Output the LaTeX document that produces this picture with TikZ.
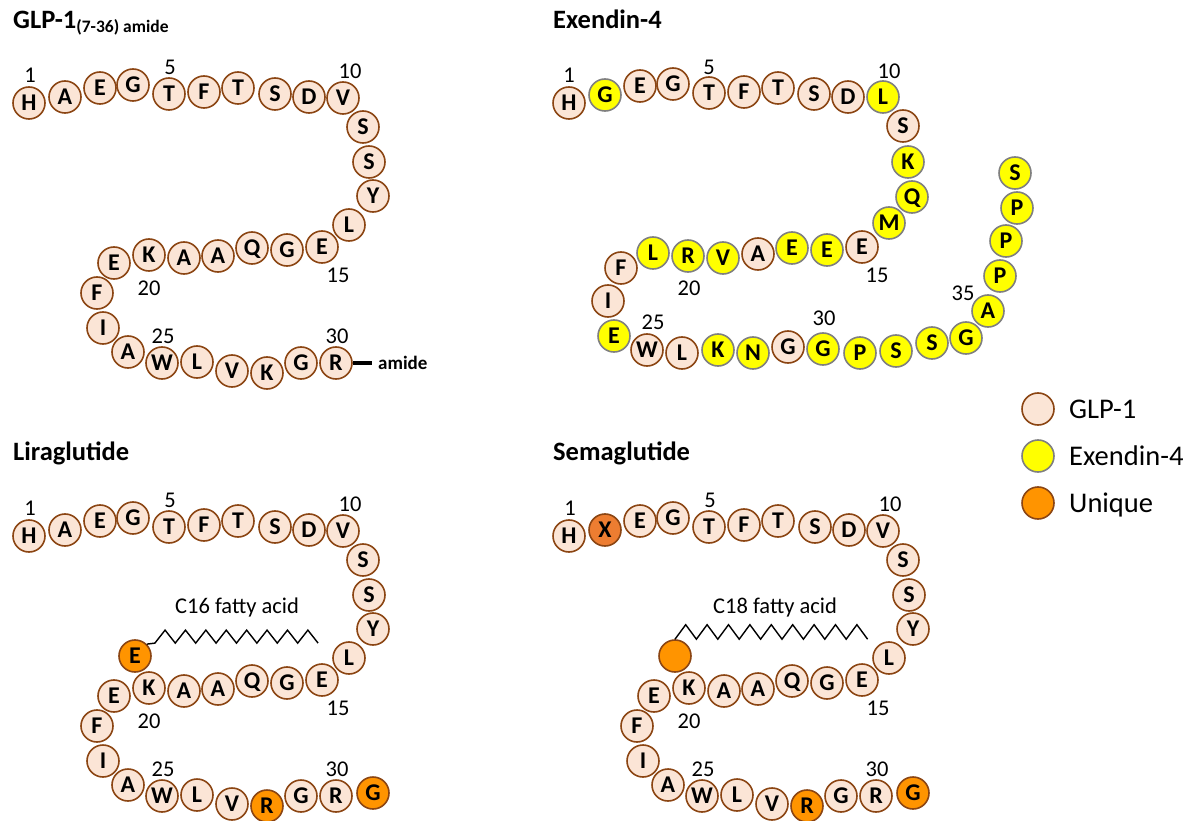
\documentclass[tikz,border=0pt]{standalone}
\usepackage{fontspec}
\setmainfont{Carlito}
\definecolor{peach}{HTML}{FBE5D6}
\definecolor{rim}{HTML}{8B4513}
\definecolor{exyellow}{HTML}{FFFF00}
\definecolor{exrim}{HTML}{7F7F7F}
\definecolor{uniq}{HTML}{FF9400}
\definecolor{uniqdark}{HTML}{ED7D31}
\tikzset{
  res/.style={circle, minimum size=32pt, inner sep=0pt, line width=1.6pt,
    font=\bfseries\fontsize{24}{26}\selectfont, text height=15pt, text depth=0pt},
  glp/.style={res, draw=rim, fill=peach},
  exd/.style={res, draw=exrim, fill=exyellow},
  unq/.style={res, draw=rim, fill=uniq},
  unqx/.style={res, draw=rim, fill=uniqdark},
  num/.style={inner sep=0pt, font=\fontsize{22.5}{25}\selectfont},
  title/.style={inner sep=0pt, font=\bfseries\fontsize{26.5}{30}\selectfont},
  fatty/.style={inner sep=0pt, font=\fontsize{22.5}{26}\selectfont},
  chainline/.style={line width=1.4pt, line join=miter},
  legtxt/.style={inner sep=0pt, font=\fontsize{28.5}{32}\selectfont},
}
% GLP-1 backbone: #1 name prefix, #2/#3 style and letter of residue 2,
% #4/#5 style and letter of residue 28
\newcommand\glpbackbone[5]{%
  \foreach \ri/\x/\y/\rl/\rs in {
    1/29/103/H/glp, 2/65/97/#3/#2, 3/100/88/E/glp, 4/133/85/G/glp, 5/169/94/T/glp,
    6/204/92/F/glp, 7/238/88/T/glp, 8/275/94/S/glp, 9/309/97/D/glp, 10/343/98/V/glp,
    11/363/127/S/glp, 12/369/162/S/glp, 13/373/196/Y/glp, 14/349/225/L/glp,
    15/322/247/E/glp, 16/287/250/G/glp, 17/252/248/Q/glp, 18/218/256/A/glp,
    19/184/258/A/glp, 20/149/255/K/glp, 21/114/263/E/glp, 22/97/293/F/glp,
    23/103/328/I/glp, 24/128/352/A/glp, 25/162/363/W/glp, 26/197/362/L/glp,
    27/232/371/V/glp, 28/267/373/#5/#4, 29/301/363/G/glp, 30/336/363/R/glp}
    {\node[\rs] (#1\ri) at (\x,\y) {\rl};}
  \foreach \nm/\x/\y in {1/30/75, 5/170/67.5, 10/350/71.5, 15/338/275,
      20/149/288, 25/163/336, 30/337/336}
    {\node[num] (#1n\nm) at (\x,\y) {\nm};}
}
\begin{document}
\begin{tikzpicture}[x=1pt, y=-1pt]
\useasboundingbox (0,0) rectangle (1195,821);

% ---------- GLP-1 (7-36) amide ----------
\node[title, anchor=base west] (tglp) at (13,28.3)
  {GLP-1\raisebox{-4.7pt}{\fontsize{17.5}{20}\selectfont (7-36) amide}};
\glpbackbone{g}{glp}{A}{glp}{K}
\node[inner sep=0pt, anchor=west, font=\bfseries\fontsize{19}{22}\selectfont]
  (amide) at (378,363) {amide};
\draw[line width=3.2pt, shorten >=6pt] (g30.east) -- (amide.west);

% ---------- Exendin-4 ----------
\node[title, anchor=base west] (texd) at (553,28.3) {Exendin-4};
\foreach \ri/\x/\y/\rl/\rs in {
    1/569/103/H/glp, 2/605/95/G/exd, 3/640/86/E/glp, 4/673/84/G/glp,
    5/709/93/T/glp, 6/744/92/F/glp, 7/778/88/T/glp, 8/814/94/S/glp,
    9/848/97/D/glp, 10/883/97/L/exd, 11/903/126/S/glp, 12/908/162/K/exd,
    13/912/197/Q/exd, 14/889/223/M/exd, 15/862/247/E/glp, 16/827/250/E/exd,
    17/792/248/E/exd, 18/758/254/A/glp, 19/723/258/V/exd, 20/688/256/R/exd,
    21/653/253/L/exd, 22/621/268/F/glp, 23/608/301/I/glp, 24/614/336/E/exd,
    25/647/350/W/glp, 26/682/353/L/glp, 27/718/350/K/exd, 28/753/353/N/exd,
    29/788/347/G/glp, 30/823/349/G/exd, 31/860/353/P/exd, 32/896/351/S/exd,
    33/932/343/S/exd, 34/966/338/G/exd, 35/988/311/A/exd, 36/1000/276/P/exd,
    37/1006/241/P/exd, 38/1017/208/P/exd, 39/1015/173/S/exd}
  {\node[\rs] (e\ri) at (\x,\y) {\rl};}
\foreach \nm/\x/\y in {1/569/75, 5/709/67.5, 10/889/71, 15/877/275,
    20/689/288, 25/653/322, 30/824/318, 35/963/293}
  {\node[num] (en\nm) at (\x,\y) {\nm};}

% ---------- Liraglutide ----------
\node[title, anchor=base west] (tlir) at (13,460.5) {Liraglutide};
\begin{scope}[shift={(0,433)}]
  \glpbackbone{l}{glp}{A}{unq}{R}
  \node[unq] (l31) at (373,360) {G};
  \node[unq] (lE) at (135,223) {E};
  \draw[chainline] (lE.45) -- ++(8,-1)
    foreach \i in {1,...,8} { -- ++(10.2,-13) -- ++(10.2,13) };
  \node[fatty, anchor=base] (lfa) at (237,180) {C16 fatty acid};
\end{scope}

% ---------- Semaglutide ----------
\node[title, anchor=base west] (tsem) at (553,460.5) {Semaglutide};
\begin{scope}[shift={(540,433)}]
  \glpbackbone{s}{unqx}{X}{unq}{R}
  \node[unq] (s31) at (373,360) {G};
  \node[unq] (sE) at (135,223) {};
  \draw[chainline] (sE.north)
    foreach \i in {1,...,9} { -- ++(10.7,-14.5) -- ++(10.7,14.5) };
  \node[fatty, anchor=base] (sfa) at (235,180) {C18 fatty acid};
\end{scope}

% ---------- legend ----------
\node[glp] (k1) at (1038,409) {};
\node[exd] (k2) at (1038,456) {};
\node[unq] (k3) at (1038,503) {};
\node[legtxt, anchor=base west] (k1t) at (1069,418) {GLP-1};
\node[legtxt, anchor=base west] (k2t) at (1069,465.5) {Exendin-4};
\node[legtxt, anchor=base west] (k3t) at (1069,512.5) {Unique};
\end{tikzpicture}
\end{document}
